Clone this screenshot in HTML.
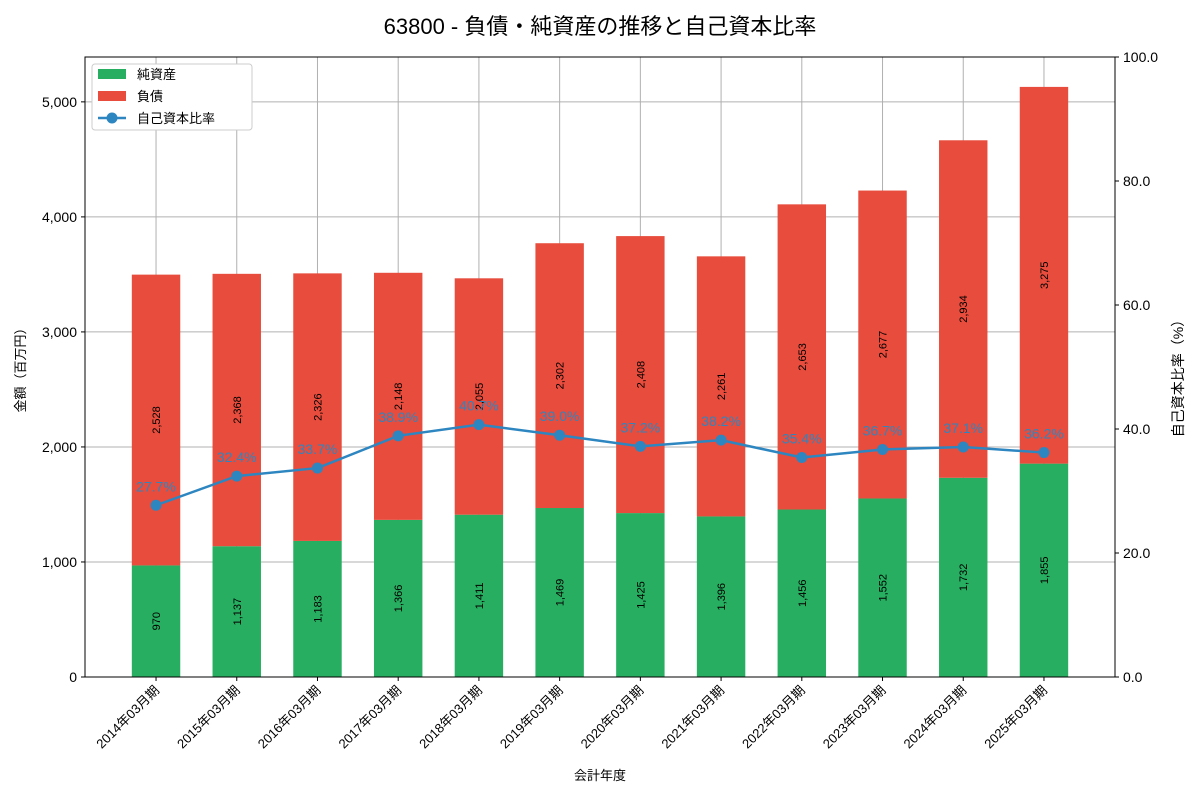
<!DOCTYPE html>
<html><head><meta charset="utf-8">
<style>
body{margin:0;background:#fff;}
svg{font-family:"Liberation Sans","Noto Sans CJK JP",sans-serif;}
</style></head>
<body>
<svg id="chart" width="1200" height="800" xmlns="http://www.w3.org/2000/svg">
<text x="600" y="34" text-anchor="middle" font-size="22" fill="#000">63800 - 負債・純資産の推移と自己資本比率</text>
<g id="grid"></g>
<g id="bars"></g>
<g id="line"></g>
<g id="axes"></g>
<text x="600" y="780" text-anchor="middle" font-size="13">会計年度</text>
<text transform="translate(25,367) rotate(-90)" text-anchor="middle" font-size="13">金額（百万円）</text>
<text transform="translate(1183,375) rotate(-90)" text-anchor="middle" font-size="14">自己資本比率（%）</text>
<g>
<rect x="92" y="64" width="160" height="66" fill="#fff" stroke="#ccc" rx="3"/>
<rect x="98" y="69" width="28" height="10" fill="#27ae60"/>
<text x="137" y="79" font-size="13">純資産</text>
<rect x="98" y="91" width="28" height="10" fill="#e74c3c"/>
<text x="137" y="101" font-size="13">負債</text>
<line x1="98" y1="118" x2="126" y2="118" stroke="#2e86c1" stroke-width="2.5"/>
<circle cx="112" cy="118" r="5.5" fill="#2e86c1"/>
<text x="137" y="123" font-size="13">自己資本比率</text>
</g>
</svg>
<script>
const categories=["2014年03月期","2015年03月期","2016年03月期","2017年03月期","2018年03月期","2019年03月期","2020年03月期","2021年03月期","2022年03月期","2023年03月期","2024年03月期","2025年03月期"];
const equity=[970,1137,1183,1366,1411,1469,1425,1396,1456,1552,1732,1855];
const debt=[2528,2368,2326,2148,2055,2302,2408,2261,2653,2677,2934,3275];
const ratio=[27.7,32.4,33.7,38.9,40.7,39.0,37.2,38.2,35.4,36.7,37.1,36.2];
const leftTicks=[0,1000,2000,3000,4000,5000];
const rightTicks=[0,20,40,60,80,100];
const L=85,R=1115,T=57,B=677,YMAX=5390;
const NS="http://www.w3.org/2000/svg";
const step=(R-L)/(categories.length-1+1.76);
const xs=i=>L+0.88*step+i*step;
const y=v=>B-v/YMAX*(B-T);
const y2=v=>B-v/100*(B-T);
const bw=step*0.6;
function mk(tag,attrs,parent,txt){const e=document.createElementNS(NS,tag);for(const k in attrs)e.setAttribute(k,attrs[k]);if(txt!==undefined)e.textContent=txt;document.getElementById(parent).appendChild(e);return e;}
const fmt=v=>v.toLocaleString('en-US');
leftTicks.forEach(t=>{const e=mk('line',{x1:L,x2:R,y1:y(t),y2:y(t),stroke:'#b0b0b0','stroke-width':1},'grid');

});
categories.forEach((c,i)=>{const e=mk('line',{x1:xs(i),x2:xs(i),y1:T,y2:B,stroke:'#b0b0b0','stroke-width':1},'grid');

});
categories.forEach((c,i)=>{
const x0=xs(i)-bw/2;
const g=mk('rect',{x:x0,y:y(equity[i]),width:bw,height:B-y(equity[i]),fill:'#27ae60'},'bars');


const top=equity[i]+debt[i];
const r=mk('rect',{x:x0,y:y(top),width:bw,height:y(equity[i])-y(top),fill:'#e74c3c'},'bars');


const ym1=y(equity[i]/2), ym2=y(equity[i]+debt[i]/2);
const t1=mk('text',{transform:`translate(${xs(i)+4},${ym1}) rotate(-90)`,'text-anchor':'middle','font-size':11},'bars',fmt(equity[i]));


const t2=mk('text',{transform:`translate(${xs(i)+4},${ym2}) rotate(-90)`,'text-anchor':'middle','font-size':11},'bars',fmt(debt[i]));


const xl=mk('text',{transform:`translate(${xs(i)+4},${B+14}) rotate(-45)`,'text-anchor':'end','font-size':13},'axes',c);


mk('line',{x1:xs(i),x2:xs(i),y1:B,y2:B+4,stroke:'#000'},'axes');
});
const pts=ratio.map((v,i)=>xs(i)+','+y2(v)).join(' ');
const pl=mk('polyline',{points:pts,fill:'none',stroke:'#2e86c1','stroke-width':2.5},'line');


ratio.forEach((v,i)=>{
const c=mk('circle',{cx:xs(i),cy:y2(v),r:5.5,fill:'#2e86c1'},'line');


const t=mk('text',{x:xs(i),y:y2(v)-14,'text-anchor':'middle','font-size':14,fill:'#2e86c1'},'line',v.toFixed(1)+'%');


});
const fr=mk('rect',{x:L,y:T,width:R-L,height:B-T,fill:'none',stroke:'#000','stroke-width':1},'axes');


leftTicks.forEach(t=>{mk('line',{x1:L-4,x2:L,y1:y(t),y2:y(t),stroke:'#000'},'axes');
const e=mk('text',{x:L-8,y:y(t)+5,'text-anchor':'end','font-size':14},'axes',fmt(t));

});
rightTicks.forEach(t=>{mk('line',{x1:R,x2:R+4,y1:y2(t),y2:y2(t),stroke:'#000'},'axes');
const e=mk('text',{x:R+8,y:y2(t)+5,'text-anchor':'start','font-size':14},'axes',t.toFixed(1));

});
</script>
</body></html>
